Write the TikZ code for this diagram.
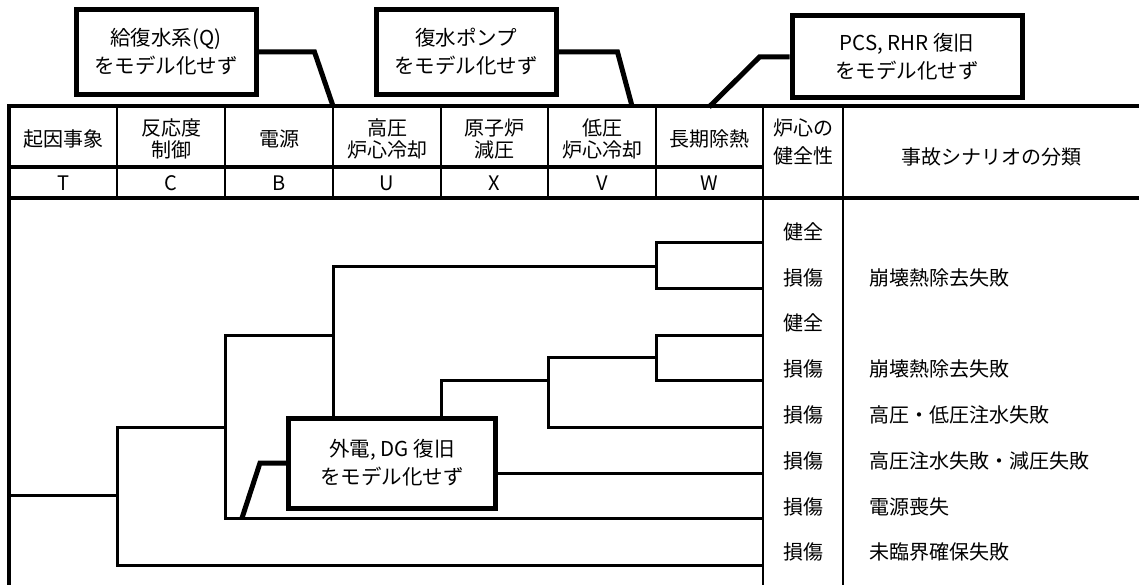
\documentclass[tikz,border=0pt]{standalone}
\usepackage{fontspec}
\setmainfont{Noto Sans CJK JP}
\usetikzlibrary{calc}
\tikzstyle{rule}=[line width=3.5pt]
\tikzstyle{sep}=[line width=2.5pt]
\tikzstyle{branch}=[line width=3pt]
\tikzstyle{head}=[align=center, inner sep=0pt, font=\fontsize{20}{22}\selectfont]
\tikzstyle{note}=[draw, rectangle, line width=5pt, fill=white, align=center, inner sep=0pt, font=\fontsize{20.5}{28}\selectfont]
\tikzstyle{leader}=[line width=5pt]

\begin{document}
\begin{tikzpicture}[x=1pt, y=-1pt, font=\fontsize{20}{24}\selectfont]

    \useasboundingbox (0,0) rectangle (1139,585);

    % table
    \draw[rule] (9,585) -- (9,106) -- (1139,106);
    \draw[rule] (9,167) -- (763,167);
    \draw[rule] (9,198) -- (1139,198);
    \foreach \x in {117,225,333,441,548,656}
        \draw[sep] (\x,106) -- (\x,198);
    \foreach \x in {763,843}
        \draw[sep] (\x,106) -- (\x,585);

    \node[head] (hT) at (63,139) {起因事象};
    \node[head] (hC) at (171,139) {反応度\\制御};
    \node[head] (hB) at (279,139) {電源};
    \node[head] (hU) at (387,139) {高圧\\炉心冷却};
    \node[head] (hX) at (494,139) {原子炉\\減圧};
    \node[head] (hV) at (602,139) {低圧\\炉心冷却};
    \node[head] (hW) at (709,139) {長期除熱};
    \node[head, font=\fontsize{20}{28}\selectfont] (hS) at (803,142) {炉心の\\健全性};
    \node[head] (hK) at (991,157) {事故シナリオの分類};

    \foreach \x/\l in {63/T,171/C,279/B,387/U,494/X,602/V,709/W}
        \node[inner sep=0pt] (l\l) at (\x,183) {\l};

    % branch points and ends
    \coordinate (t0) at (9,495);
    \coordinate (bC) at (117,495);
    \coordinate (bB) at (225,427);
    \coordinate (bU) at (333,335);
    \coordinate (bX) at (441,427);
    \coordinate (bV) at (548,380);
    \coordinate (bW1) at (656,266);
    \coordinate (bW2) at (656,357);
    \foreach \n/\y in {1/242,2/288,3/335,4/380,5/427,6/473,7/518,8/565}
        \coordinate (e\n) at (763,\y);

    \draw[branch] (t0) -- (bC);
    \draw[branch] (bC) |- (e8);
    \draw[branch] (bC) |- (bB);
    \draw[branch] (bB) |- (e7);
    \draw[branch] (bB) |- (bU);
    \draw[branch] (bU) |- (bW1);
    \draw[branch] (bW1) |- (e1);
    \draw[branch] (bW1) |- (e2);
    \draw[branch] (bU) |- (bX);
    \draw[branch] (bX) |- (e6);
    \draw[branch] (bX) |- (bV);
    \draw[branch] (bV) |- (e5);
    \draw[branch] (bV) |- (bW2);
    \draw[branch] (bW2) |- (e3);
    \draw[branch] (bW2) |- (e4);

    \foreach \n/\y/\t in {1/232/健全,2/278/損傷,3/323/健全,4/369/損傷,5/415/損傷,6/461/損傷,7/507/損傷,8/552/損傷}
        \node[inner sep=0pt] (o\n) at (803,\y) {\t};

    \foreach \n/\y/\t in {2/278/崩壊熱除去失敗,4/369/崩壊熱除去失敗,5/415/高圧・低圧注水失敗,6/461/高圧注水失敗・減圧失敗,7/507/電源喪失,8/552/未臨界確保失敗}
        \node[anchor=west, inner sep=0pt] (s\n) at (869,\y) {\t};

    % notes
    \coordinate (kU) at (333,106);
    \coordinate (kW) at (632,106);
    \coordinate (kL) at (709,107);
    \coordinate (kB) at (242,518);

    \node[note, minimum width=180pt, minimum height=85pt] (nQ) at (166,52) {給復水系(Q)\\をモデル化せず};
    \node[note, minimum width=180pt, minimum height=85pt] (nP) at (466,52) {復水ポンプ\\をモデル化せず};
    \node[note, minimum width=230pt, minimum height=82pt] (nR) at (907,57) {PCS, RHR 復旧\\をモデル化せず};
    \node[note, minimum width=207pt, minimum height=90pt] (nD) at (392,463) {外電, DG 復旧\\をモデル化せず};

    \draw[leader] (nQ.east) -- ++(56,0) -- (kU);
    \draw[leader] (nP.east) -- ++(59,0) -- (kW);
    \draw[leader] (nR.west) -- ++(-30,0) -- (kL);
    \draw[leader] (nD.west) -- ++(-26,0) -- (kB);

\end{tikzpicture}
\end{document}
